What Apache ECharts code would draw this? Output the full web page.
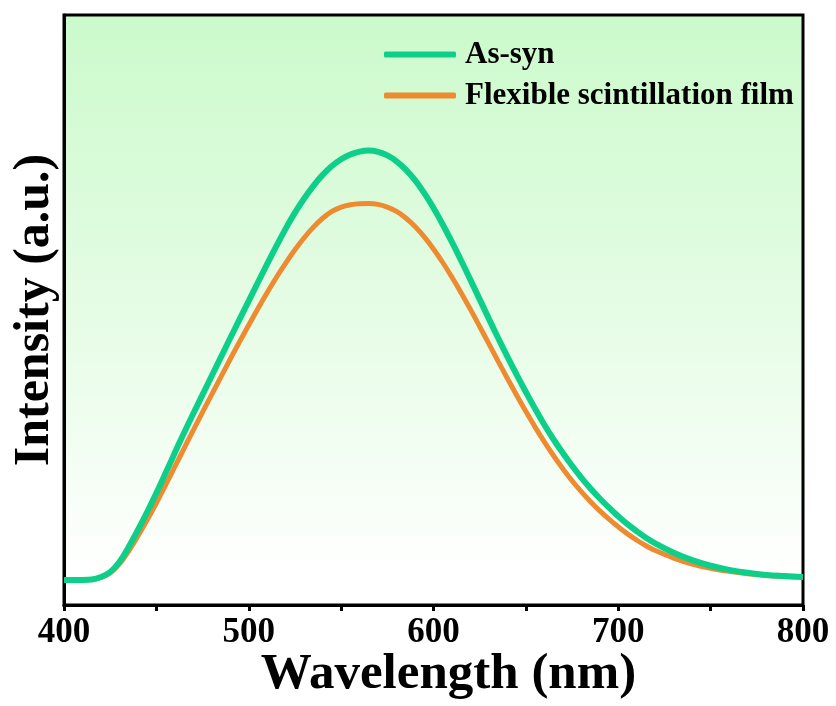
<!DOCTYPE html>
<html>
<head>
<meta charset="utf-8">
<script src="https://cdn.jsdelivr.net/npm/echarts@6/dist/echarts.min.js"></script>
<style>html,body{margin:0;padding:0;background:#fff;}#c{width:836px;height:706px;}</style>
</head>
<body>
<div id="c"></div>
<script>
const wavelengths = [400,410,415,420,425,430,435,440,445,450,455,460,465,470,475,480,485,490,495,500,505,510,515,520,525,530,535,540,545,550,555,560,565,570,575,580,585,590,595,600,605,610,615,620,625,630,635,640,645,650,655,660,665,670,675,680,685,690,695,700,705,710,715,720,730,740,750,760,770,780,790,800];
const asSyn = [4.24,4.24,4.32,4.75,5.59,7.29,9.83,12.71,15.76,18.98,22.37,25.80,29.20,32.45,35.65,38.85,42.05,45.25,48.40,51.55,54.70,57.80,60.85,63.80,66.50,68.90,71.05,72.90,74.40,75.55,76.35,76.85,77.03,76.80,76.20,75.20,73.80,72.00,69.80,67.30,64.50,61.50,58.35,55.10,51.80,48.50,45.25,42.10,39.05,36.10,33.25,30.55,28.05,25.75,23.60,21.60,19.75,18.05,16.50,15.05,13.70,12.50,11.40,10.45,8.85,7.60,6.65,5.95,5.45,5.10,4.90,4.75];
const film = [4.24,4.24,4.32,4.66,5.42,6.95,9.15,11.69,14.41,17.29,20.34,23.45,26.55,29.65,32.70,35.70,38.70,41.70,44.60,47.45,50.25,52.95,55.55,57.95,60.20,62.25,64.05,65.55,66.70,67.45,67.85,68.02,68.05,67.90,67.45,66.70,65.60,64.15,62.40,60.35,58.05,55.55,52.90,50.10,47.20,44.25,41.30,38.40,35.55,32.80,30.15,27.65,25.30,23.10,21.05,19.20,17.50,15.95,14.55,13.25,12.05,11.00,10.05,9.25,7.95,6.95,6.20,5.70,5.28,5.00,4.83,4.75];
const seriesNames = ['As-syn', 'Flexible scintillation film'];
const xTickLabels = [400, 500, 600, 700, 800];

const chart = echarts.init(document.getElementById('c'), null, {renderer: 'canvas'});
const font = '"Liberation Serif", "Times New Roman", serif';
const pair = (ys) => wavelengths.map((w, i) => [w, ys[i]]);

chart.setOption({
  animation: false,
  backgroundColor: '#ffffff',
  grid: {
    left: 64, right: 33, top: 15, bottom: 101,
    containLabel: false,
    outerBoundsMode: 'none',
    show: true,
    borderColor: '#000', borderWidth: 3,
    backgroundColor: new echarts.graphic.LinearGradient(0, 0, 0, 1, [
      {offset: 0, color: '#cbfacb'},
      {offset: 0.5, color: '#e5fce5'},
      {offset: 0.95, color: '#ffffff'},
      {offset: 1, color: '#ffffff'}
    ])
  },
  legend: {
    orient: 'vertical',
    left: 379, top: 34,
    itemWidth: 72, itemHeight: 6, itemGap: 10,
    icon: 'roundRect',
    data: seriesNames,
    textStyle: {fontFamily: font, fontWeight: 'bold', fontSize: 31, color: '#000', lineHeight: 31, padding: [0, 0, 0, 4]}
  },
  xAxis: {
    type: 'value', min: 400, max: 800, interval: 50,
    name: 'Wavelength (nm)', nameLocation: 'middle', nameGap: 44,
    nameMoveOverlap: false,
    nameTextStyle: {fontFamily: font, fontWeight: 'bold', fontSize: 51, color: '#000', padding: [0, 0, 0, 30]},
    axisLine: {show: true, lineStyle: {color: '#000', width: 3}},
    axisTick: {show: true, inside: false, length: 6, lineStyle: {color: '#000', width: 3}},
    axisLabel: {
      margin: 10, fontFamily: font, fontWeight: 'bold', fontSize: 35, color: '#000',
      formatter: (v) => xTickLabels.indexOf(v) >= 0 ? String(v) : ''
    },
    splitLine: {show: false}
  },
  yAxis: {
    type: 'value', min: 0, max: 100,
    name: 'Intensity (a.u.)', nameLocation: 'middle', nameGap: 4, nameRotate: 90,
    nameMoveOverlap: false,
    nameTextStyle: {fontFamily: font, fontWeight: 'bold', fontSize: 50, color: '#000'},
    axisLine: {show: true, lineStyle: {color: '#000', width: 3}},
    axisTick: {show: false},
    axisLabel: {show: false},
    splitLine: {show: false}
  },
  series: [
    {
      name: seriesNames[1], type: 'line', data: pair(film), smooth: 0.4,
      showSymbol: false, symbol: 'none',
      lineStyle: {color: '#ee8a2f', width: 5}, itemStyle: {color: '#ee8a2f'}
    },
    {
      name: seriesNames[0], type: 'line', data: pair(asSyn), smooth: 0.4,
      showSymbol: false, symbol: 'none',
      lineStyle: {color: '#0dcf89', width: 6}, itemStyle: {color: '#0dcf89'}
    }
  ]
});
</script>
</body>
</html>
